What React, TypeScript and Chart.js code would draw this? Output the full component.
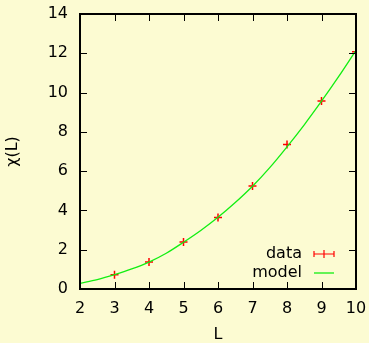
import React, { useEffect, useRef } from "react";
import { Chart, registerables } from "chart.js";

Chart.register(...registerables);

// Measured susceptibility vs. system size
const sizes = [3, 4, 5, 6, 7, 8, 9, 10];
const chi = [0.73, 1.37, 2.39, 3.64, 5.25, 7.36, 9.57, 12.08];

// Fitted model curve, sampled along L
const modelL = [2, 2.5, 3, 3.5, 4, 4.5, 5, 5.5, 6, 6.5, 7, 7.5, 8, 8.5, 9, 9.5, 10];
const modelChi = [0.29, 0.48, 0.73, 1.02, 1.37, 1.82, 2.38, 2.98, 3.65, 4.4, 5.23, 6.18, 7.24, 8.36, 9.56, 10.82, 12.15];

const xTicks = [2, 3, 4, 5, 6, 7, 8, 9, 10];
const yTicks = [0, 2, 4, 6, 8, 10, 12, 14];
const legendLabels = ["data", "model"];
const xTitle = "L";
const yTitle = "χ(L)";

const BG = "#fcfbd2";
const RED = "#ff0000";
const GREEN = "#11ee11";
const FAMILY = '"DejaVu Sans", sans-serif';
const SIZE = 16;
const FONT = `${SIZE}px ${FAMILY}`;

// Let the layout padding alone decide where the plot box sits
const noScalePadding = (s: any) => {
  s.paddingTop = 0;
  s.paddingBottom = 0;
  s.paddingLeft = 0;
  s.paddingRight = 0;
};

const framePlugin = {
  id: "frame",
  beforeDraw(chart: any) {
    const { ctx, width, height } = chart;
    ctx.save();
    ctx.fillStyle = BG;
    ctx.fillRect(0, 0, width, height);
    ctx.restore();
  },
  afterDraw(chart: any) {
    const { ctx, chartArea, scales } = chart;
    const { left, right, top, bottom } = chartArea;
    const tl = 7;
    ctx.save();
    // inward tick marks on all four sides
    ctx.strokeStyle = "#000";
    ctx.lineWidth = 1;
    ctx.beginPath();
    xTicks.slice(1, -1).forEach((v) => {
      const px = Math.round(scales.x.getPixelForValue(v)) + 0.5;
      ctx.moveTo(px, bottom);
      ctx.lineTo(px, bottom - tl);
      ctx.moveTo(px, top);
      ctx.lineTo(px, top + tl);
    });
    yTicks.slice(1, -1).forEach((v) => {
      const py = Math.round(scales.y.getPixelForValue(v)) + 0.5;
      ctx.moveTo(left, py);
      ctx.lineTo(left + tl, py);
      ctx.moveTo(right, py);
      ctx.lineTo(right - tl, py);
    });
    ctx.stroke();
    // plot border
    ctx.lineWidth = 2;
    ctx.strokeRect(left, top, right - left, bottom - top);

    // axis titles
    ctx.fillStyle = "#000";
    ctx.font = FONT;
    ctx.textAlign = "center";
    ctx.textBaseline = "middle";
    ctx.fillText(xTitle, (left + right) / 2, bottom + 46);
    ctx.save();
    ctx.translate(left - 67, (top + bottom) / 2);
    ctx.rotate(-Math.PI / 2);
    ctx.fillText(yTitle, 0, 0);
    ctx.restore();

    // key, bottom right
    const textX = right - 54;
    const x1 = right - 42;
    const x2 = right - 22;
    const row1 = bottom - 35;
    const row2 = bottom - 16;
    ctx.textAlign = "right";
    ctx.fillText(legendLabels[0], textX, row1);
    ctx.fillText(legendLabels[1], textX, row2);

    ctx.strokeStyle = RED;
    ctx.lineWidth = 1.2;
    ctx.beginPath();
    ctx.moveTo(x1, row1);
    ctx.lineTo(x2, row1);
    ctx.moveTo(x1, row1 - 3);
    ctx.lineTo(x1, row1 + 3);
    ctx.moveTo(x2, row1 - 3);
    ctx.lineTo(x2, row1 + 3);
    ctx.moveTo((x1 + x2) / 2, row1 - 4);
    ctx.lineTo((x1 + x2) / 2, row1 + 4);
    ctx.stroke();

    ctx.strokeStyle = GREEN;
    ctx.lineWidth = 1.3;
    ctx.beginPath();
    ctx.moveTo(x1, row2);
    ctx.lineTo(x2, row2);
    ctx.stroke();
    ctx.restore();
  },
};

export default function App() {
  const canvasRef = useRef<HTMLCanvasElement | null>(null);

  useEffect(() => {
    document.body.style.margin = "0";
    document.body.style.background = BG;
    const canvas = canvasRef.current;
    if (!canvas) return;

    const chart = new Chart(canvas, {
      type: "line",
      data: {
        datasets: [
          {
            label: legendLabels[1],
            data: modelL.map((l, i) => ({ x: l, y: modelChi[i] })),
            borderColor: GREEN,
            borderWidth: 1.3,
            pointRadius: 0,
            cubicInterpolationMode: "monotone",
            fill: false,
          },
          {
            label: legendLabels[0],
            data: sizes.map((l, i) => ({ x: l, y: chi[i] })),
            showLine: false,
            pointStyle: "cross",
            pointRadius: 4,
            borderColor: RED,
            backgroundColor: RED,
            pointBorderWidth: 1.5,
          },
        ],
      },
      options: {
        responsive: false,
        animation: false,
        layout: { padding: { top: 14, right: 13, left: 0, bottom: 0 } },
        plugins: {
          legend: { display: false },
          tooltip: { enabled: false },
        },
        scales: {
          x: {
            type: "linear",
            min: 2,
            max: 10,
            afterBuildTicks: (s: any) => {
              s.ticks = xTicks.map((v) => ({ value: v }));
            },
            afterFit: (s: any) => {
              s.height = 54;
              noScalePadding(s);
            },
            grid: { display: false, drawTicks: false },
            border: { display: false },
            ticks: {
              padding: 10,
              color: "#000",
              font: { family: FAMILY, size: SIZE },
              maxRotation: 0,
              autoSkip: false,
            },
          },
          y: {
            type: "linear",
            min: 0,
            max: 14,
            afterBuildTicks: (s: any) => {
              s.ticks = yTicks.map((v) => ({ value: v }));
            },
            afterFit: (s: any) => {
              s.width = 80;
              noScalePadding(s);
            },
            grid: { display: false, drawTicks: false },
            border: { display: false },
            ticks: {
              padding: 12,
              color: "#000",
              font: { family: FAMILY, size: SIZE },
              autoSkip: false,
            },
          },
        },
      },
      plugins: [framePlugin],
    } as any);

    return () => chart.destroy();
  }, []);

  return (
    <canvas
      ref={canvasRef}
      width={369}
      height={343}
      style={{ display: "block", width: 369, height: 343 }}
    />
  );
}
